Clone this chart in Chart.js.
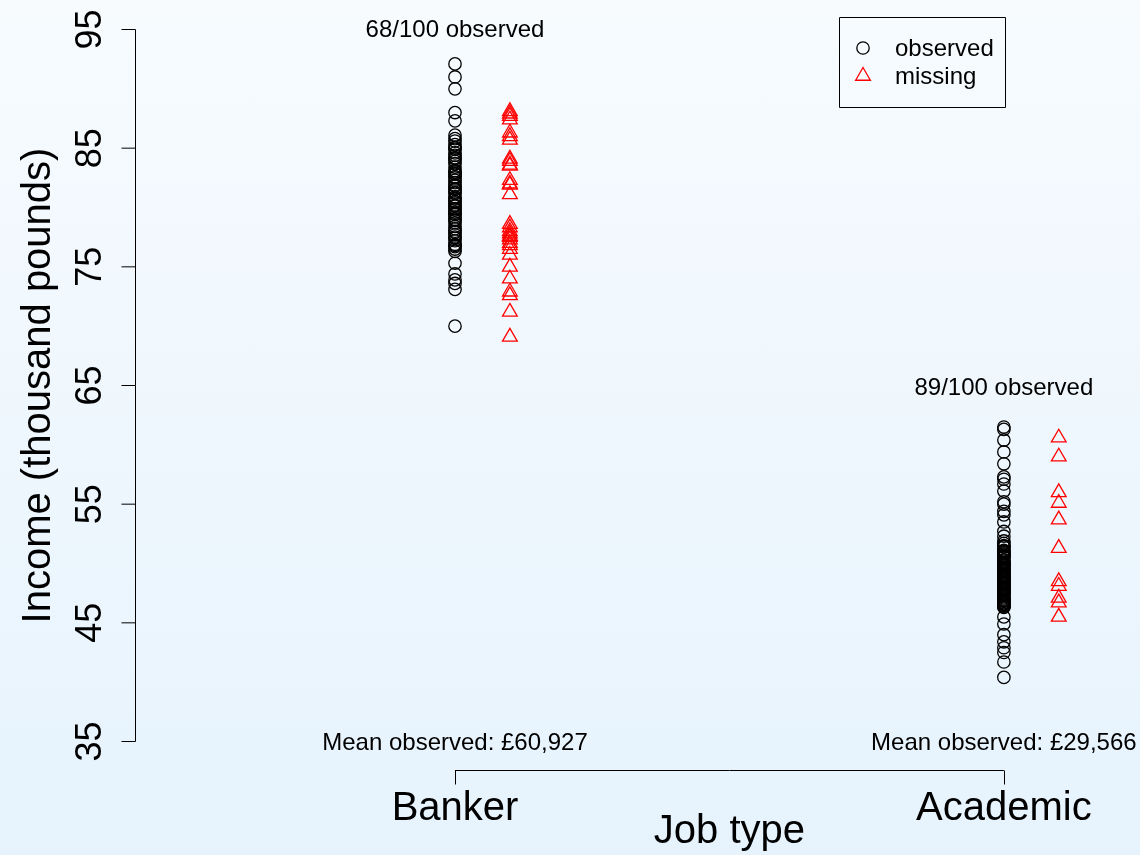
<!DOCTYPE html>
<html>
<head>
<meta charset="utf-8">
<script src="https://cdn.jsdelivr.net/npm/chart.js@4"></script>
<style>
  html, body { margin: 0; padding: 0; }
  body {
    width: 1140px; height: 855px; overflow: hidden;
    background: linear-gradient(to bottom, #f7fbfe 0%, #e6f3fd 100%);
  }
  canvas { display: block; }
</style>
</head>
<body>
<canvas id="chart" width="1140" height="855"></canvas>
<script>
// categories and positions on the x scale
const jobTypes = ['Banker', 'Academic'];
const jobPositions = [1, 2];
const missingOffset = 0.1;

// income in thousand pounds
const bankerObserved = [
  92.1, 91.0, 90.0, 88.0, 87.3,
  86.1, 85.8, 85.6, 85.3, 85.1, 84.9, 84.6, 84.4, 84.1, 83.9,
  83.7, 83.4, 83.1, 82.9, 82.8, 82.5, 82.3, 82.1, 81.9, 81.8,
  81.5, 81.3, 81.2, 80.9, 80.7, 80.5, 80.4, 80.1, 79.9, 79.8,
  79.6, 79.4, 79.2, 78.9, 78.7, 78.4, 78.2, 77.9, 77.7, 77.4,
  77.2, 76.9, 76.7, 76.5, 76.3, 85.0, 83.0, 81.6, 80.2, 79.5,
  78.0, 76.8, 84.2, 82.6, 80.8, 79.0, 77.5,
  75.3, 74.4, 73.9, 73.6, 73.1, 70.0
];
const bankerMissing = [
  88.1, 87.9, 87.7, 87.4, 86.3, 86.0, 85.7, 84.1, 83.9, 83.6, 83.5,
  82.3, 82.0, 81.9, 81.1, 78.6, 78.3, 78.0, 77.8, 77.6, 77.5, 77.3,
  77.0, 76.8, 76.5, 76.0, 75.0, 74.0, 72.9, 72.6, 71.2, 69.1
];
const academicObserved = [
  61.5, 61.3, 60.4, 59.4, 58.4, 57.3, 57.1, 56.7, 56.1, 55.2,
  55.0, 54.4, 54.1, 53.5, 52.7, 52.3, 51.9, 51.4, 51.0,
  51.7, 51.5, 51.4, 51.1, 50.9, 50.8, 50.6, 50.6, 50.3, 50.2,
  50.0, 49.9, 49.9, 49.7, 49.6, 49.4, 49.4, 49.3, 49.1, 49.0,
  48.9, 48.8, 48.8, 48.6, 48.5, 48.4, 48.3, 48.3, 48.1, 48.0,
  47.9, 47.8, 47.7, 47.7, 47.5, 47.4, 47.3, 47.2, 47.1, 47.0,
  46.9, 46.9, 46.8, 46.7, 46.6, 46.5, 46.4, 46.3, 50.5, 49.8,
  49.2, 48.7, 48.2, 47.6, 46.6, 51.0, 50.1, 49.5, 48.9, 47.9,
  46.4, 50.7,
  45.5, 44.9, 44.0, 43.4, 42.9, 42.5, 41.7, 40.4
];
const academicMissing = [60.6, 59.0, 56.0, 55.1, 53.7, 51.3, 48.5, 48.1, 47.1, 46.7, 45.5];

const topLabels = ['68/100 observed', '89/100 observed'];
const topLabelY = [94.35, 64.2];
const meanLabels = ['Mean observed: \u00a360,927', 'Mean observed: \u00a329,566'];
const yTicks = [35, 45, 55, 65, 75, 85, 95];
const legendLabels = ['observed', 'missing'];

const FONT = '"Liberation Sans", Arial, Helvetica, sans-serif';

function toPoints(xPos, values) {
  return values.map(v => ({ x: xPos, y: v }));
}

const circleStyle = {
  pointStyle: 'circle', pointRadius: 6.2, pointBorderWidth: 1.3,
  pointBorderColor: '#000', pointBackgroundColor: 'rgba(0,0,0,0)'
};
const triangleStyle = {
  pointStyle: 'triangle', pointRadius: 8.5, pointBorderWidth: 1.3,
  pointBorderColor: '#ff0000', pointBackgroundColor: 'rgba(0,0,0,0)'
};

const rAxes = {
  id: 'rAxes',
  afterDraw(chart) {
    const { ctx, chartArea, scales: { x, y } } = chart;
    ctx.save();
    ctx.strokeStyle = '#000';
    ctx.fillStyle = '#000';
    ctx.lineWidth = 1;

    // y axis
    const ax = chartArea.left + 0.5;
    ctx.beginPath();
    ctx.moveTo(ax, y.getPixelForValue(yTicks[0]));
    ctx.lineTo(ax, y.getPixelForValue(yTicks[yTicks.length - 1]));
    yTicks.forEach(t => {
      const py = y.getPixelForValue(t);
      ctx.moveTo(ax, py);
      ctx.lineTo(ax - 14, py);
    });
    ctx.stroke();

    ctx.font = '36px ' + FONT;
    ctx.textAlign = 'center';
    ctx.textBaseline = 'alphabetic';
    yTicks.forEach(t => {
      ctx.save();
      ctx.translate(ax - 35, y.getPixelForValue(t));
      ctx.rotate(-Math.PI / 2);
      ctx.fillText(String(t), 0, 0);
      ctx.restore();
    });

    ctx.font = '40px ' + FONT;
    ctx.save();
    ctx.translate(50, (chartArea.top + chartArea.bottom) / 2);
    ctx.rotate(-Math.PI / 2);
    ctx.fillText('Income (thousand pounds)', 0, 0);
    ctx.restore();

    // x axis
    const x1 = x.getPixelForValue(jobPositions[0]);
    const x2 = x.getPixelForValue(jobPositions[jobPositions.length - 1]);
    const axY = chartArea.bottom + 29;
    ctx.beginPath();
    ctx.moveTo(x1, axY);
    ctx.lineTo(x2, axY);
    jobPositions.forEach(p => {
      const px = Math.round(x.getPixelForValue(p)) + 0.5;
      ctx.moveTo(px, axY);
      ctx.lineTo(px, axY + 14);
    });
    ctx.stroke();

    jobTypes.forEach((name, i) => {
      ctx.fillText(name, x.getPixelForValue(jobPositions[i]), chartArea.bottom + 78);
    });
    ctx.fillText('Job type', (x1 + x2) / 2, chartArea.bottom + 101);

    // annotations
    ctx.font = '24px ' + FONT;
    jobPositions.forEach((p, i) => {
      const px = x.getPixelForValue(p);
      ctx.fillText(topLabels[i], px, y.getPixelForValue(topLabelY[i]));
      ctx.fillText(meanLabels[i], px, y.getPixelForValue(yTicks[0]) + 8);
    });

    // legend box
    const lx = 839, ly = 17, lw = 166, lh = 90;
    ctx.beginPath();
    ctx.rect(lx + 0.5, ly + 0.5, lw, lh);
    ctx.stroke();
    const styles = [circleStyle, triangleStyle];
    ctx.textAlign = 'left';
    legendLabels.forEach((lab, i) => {
      const cy = ly + 31 + i * 28;
      const s = styles[i];
      ctx.strokeStyle = s.pointBorderColor;
      ctx.fillStyle = 'rgba(0,0,0,0)';
      ctx.lineWidth = s.pointBorderWidth;
      Chart.helpers.drawPoint(ctx, {
        pointStyle: s.pointStyle,
        radius: s.pointRadius,
        rotation: 0,
        borderWidth: s.pointBorderWidth
      }, lx + 24, cy);
      ctx.fillStyle = '#000';
      ctx.fillText(lab, lx + 56, cy + 8);
    });
    ctx.restore();
  }
};

new Chart(document.getElementById('chart'), {
  type: 'scatter',
  data: {
    datasets: [
      { label: 'Banker observed', data: toPoints(jobPositions[0], bankerObserved), ...circleStyle },
      { label: 'Banker missing', data: toPoints(jobPositions[0] + missingOffset, bankerMissing), ...triangleStyle },
      { label: 'Academic observed', data: toPoints(jobPositions[1], academicObserved), ...circleStyle },
      { label: 'Academic missing', data: toPoints(jobPositions[1] + missingOffset, academicMissing), ...triangleStyle }
    ].map(d => Object.assign(d, { clip: false, showLine: false }))
  },
  options: {
    responsive: false,
    animation: false,
    events: [],
    layout: { autoPadding: false, padding: { left: 135, right: 0, top: 29.5, bottom: 113.5 } },
    plugins: { legend: { display: false }, tooltip: { enabled: false } },
    scales: {
      x: { type: 'linear', min: 0.417, max: 2.248, display: false },
      y: { type: 'linear', min: 35, max: 95, display: false }
    }
  },
  plugins: [rAxes]
});
</script>
</body>
</html>
